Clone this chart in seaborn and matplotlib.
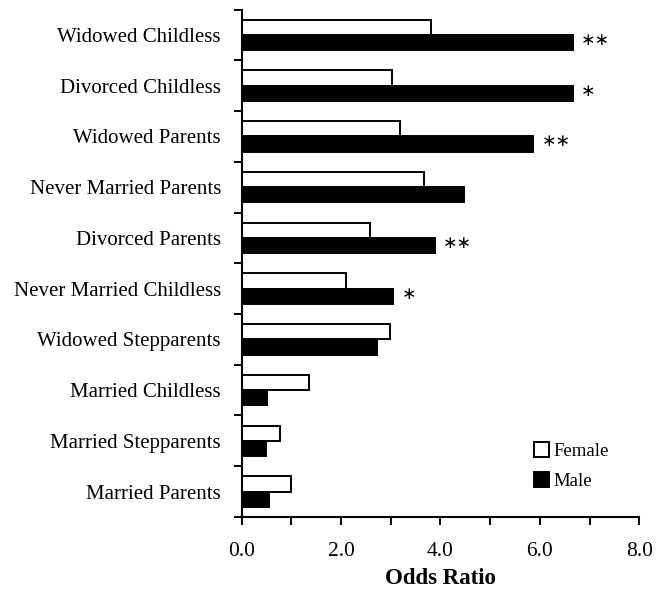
import matplotlib
matplotlib.use("Agg")
import matplotlib.pyplot as plt
import matplotlib.transforms as mtransforms
from matplotlib.ticker import MultipleLocator
from matplotlib.patches import Patch
import seaborn as sns
import pandas as pd

categories = [
    "Widowed Childless", "Divorced Childless", "Widowed Parents",
    "Never Married Parents", "Divorced Parents", "Never Married Childless",
    "Widowed Stepparents", "Married Childless", "Married Stepparents",
    "Married Parents",
]
female = [3.81, 3.02, 3.19, 3.66, 2.58, 2.10, 2.98, 1.35, 0.77, 0.99]
male = [6.67, 6.67, 5.87, 4.47, 3.88, 3.05, 2.73, 0.50, 0.48, 0.55]
significance = ["**", "*", "**", "", "**", "*", "", "", "", ""]
x_ticks = [0.0, 2.0, 4.0, 6.0, 8.0]

df = pd.DataFrame({
    "Group": categories * 2,
    "Odds Ratio": female + male,
    "Sex": ["Female"] * len(categories) + ["Male"] * len(categories),
})

sns.set_theme(style="ticks")
plt.rcParams["font.family"] = ["Liberation Serif", "DejaVu Serif"]
plt.rcParams["text.color"] = "black"
plt.rcParams["xtick.color"] = "black"
plt.rcParams["ytick.color"] = "black"
plt.rcParams["axes.labelcolor"] = "black"

fig = plt.figure(figsize=(6.65, 5.98), dpi=100)
ax = fig.add_axes([0.3635, 0.1355, 0.5978, 0.8485])

sns.barplot(
    data=df, y="Group", x="Odds Ratio", hue="Sex", order=categories,
    hue_order=["Female", "Male"], palette={"Female": "white", "Male": "black"},
    orient="h", width=0.6, edgecolor="black", linewidth=1.4, errorbar=None,
    legend=False, ax=ax,
)

ax.set_xlim(0, 8)
ax.set_ylim(len(categories) - 0.5, -0.5)
ax.set_xticks(x_ticks)
ax.set_xticklabels([f"{v:.1f}" for v in x_ticks], fontsize=15.5)
ax.xaxis.set_minor_locator(MultipleLocator(1.0))

# category labels centred, tick marks on the boundaries between groups
ax.set_yticks(range(len(categories)))
ax.set_yticklabels(categories, fontsize=15)
ax.tick_params(axis="y", which="major", length=0, pad=15)
ax.set_yticks([i - 0.5 for i in range(len(categories) + 1)], minor=True)
ax.tick_params(axis="y", which="minor", length=6, width=1.4, direction="out")
ax.tick_params(axis="x", which="both", length=6, width=1.4, direction="out", pad=12)

ax.set_ylabel("")
ax.set_xlabel("Odds Ratio", fontsize=16.5, fontweight="bold", labelpad=5)

for side in ["top", "right"]:
    ax.spines[side].set_visible(False)
for side in ["left", "bottom"]:
    ax.spines[side].set_linewidth(1.5)
    ax.spines[side].set_color("black")

# significance markers beside the male bars
offset = mtransforms.offset_copy(ax.transData, fig=fig, x=8, y=0, units="dots")
for i, (val, sig) in enumerate(zip(male, significance)):
    if sig:
        ax.text(val, i + 0.1, sig.replace("*", "\u2217"), transform=offset,
                ha="left", va="center", fontsize=12.5, color="black",
                family=["DejaVu Sans"])

handles = [
    Patch(facecolor="white", edgecolor="black", linewidth=1.4, label="Female"),
    Patch(facecolor="black", edgecolor="black", linewidth=1.4, label="Male"),
]
ax.legend(handles=handles, loc="lower right", bbox_to_anchor=(0.965, 0.02),
          frameon=False, fontsize=13.5, handlelength=0.8, handleheight=0.8,
          handletextpad=0.2, labelspacing=0.65)

fig.savefig("out.png", dpi=100, facecolor="white")
